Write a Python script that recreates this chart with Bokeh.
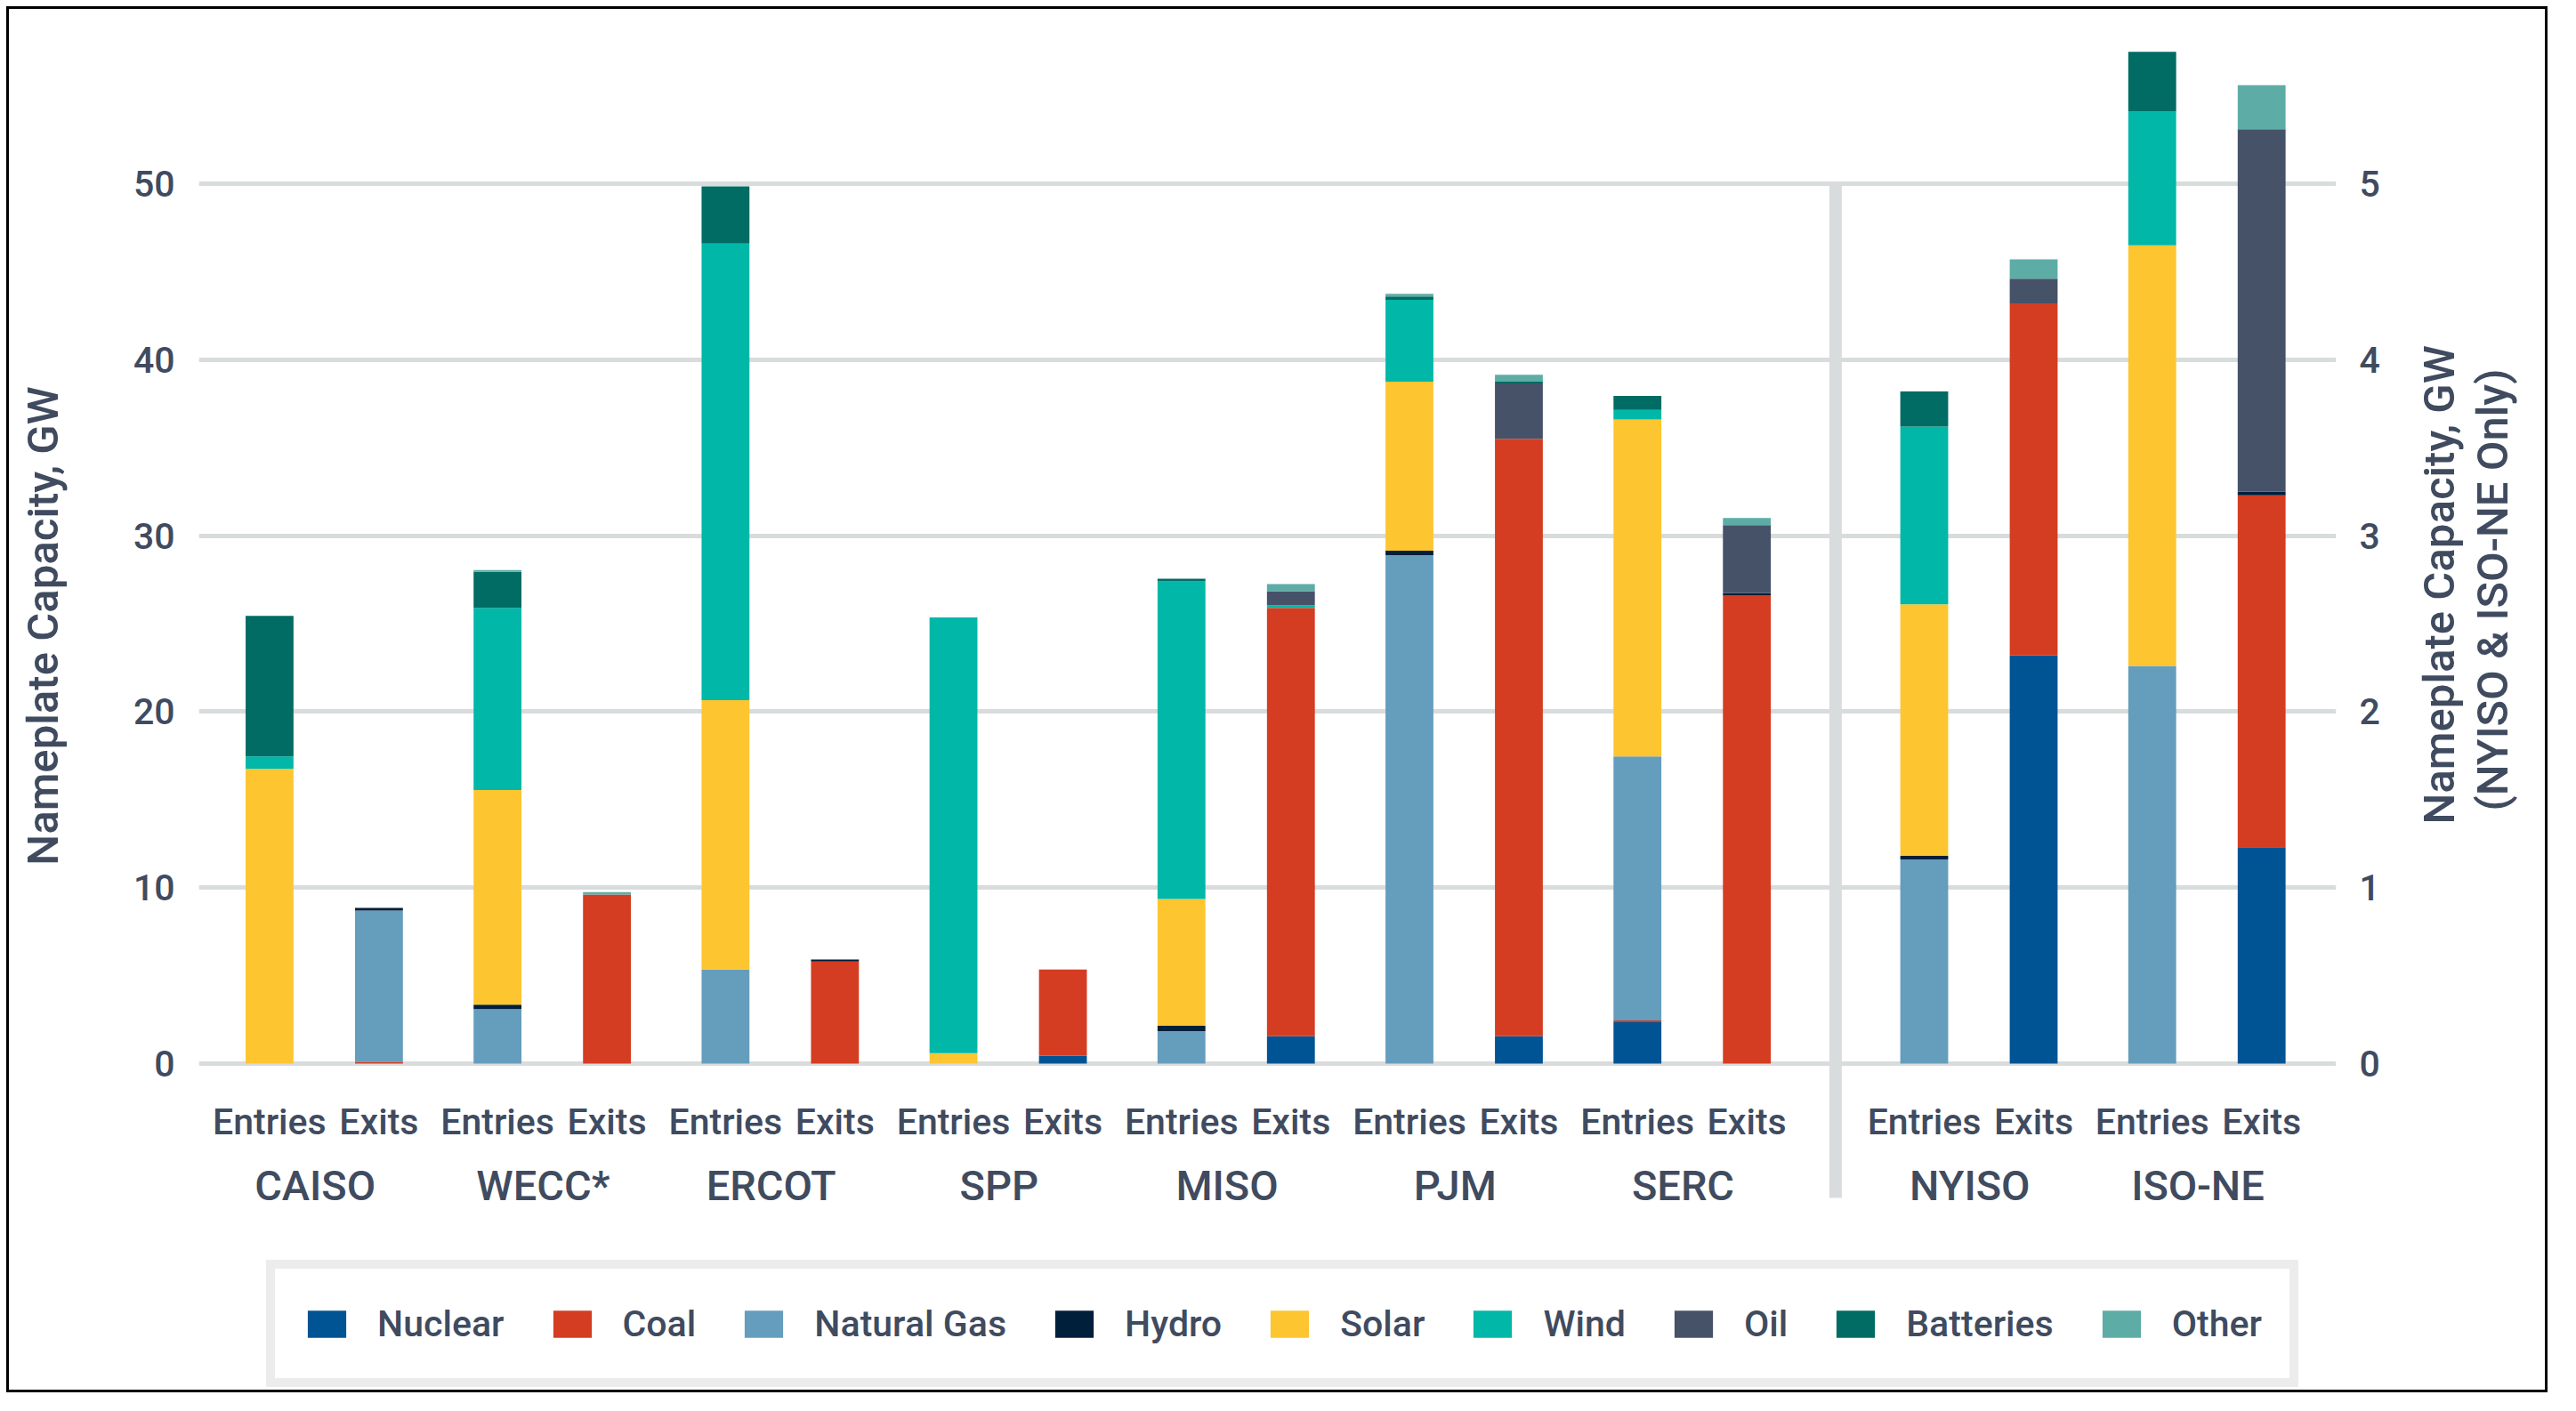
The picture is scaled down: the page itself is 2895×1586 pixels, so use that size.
import math
from bokeh.plotting import figure
from bokeh.layouts import column, row
from bokeh.models import (ColumnDataSource, Range1d, LinearAxis, FixedTicker,
                          Legend, LegendItem, Spacer)
from bokeh.core.properties import value
from bokeh.embed import file_html
from bokeh.resources import INLINE

# ---------------- data ----------------
regions = ["CAISO", "WECC*", "ERCOT", "SPP", "MISO", "PJM", "SERC", "NYISO", "ISO-NE"]
kinds = ["Entries", "Exits"]
right_axis_regions = ["NYISO", "ISO-NE"]   # plotted against the right axis (GW)
fuels = ["Nuclear", "Coal", "Natural Gas", "Hydro", "Solar", "Wind", "Oil", "Batteries", "Other"]
colors = ["#005493", "#D43D21", "#659DBD", "#001F3B", "#FDC530",
          "#00B7A8", "#465268", "#006C63", "#5DADA6"]

# bar order: CAISO En, CAISO Ex, WECC En, WECC Ex, ... ISO-NE En, ISO-NE Ex
nuclear   = [0, 0,    0, 0,     0, 0,     0, 0.45,  0, 1.55,   0, 1.55,   2.35, 0,    0, 2.32,  0, 1.23]
coal      = [0, 0.1,  0, 9.6,   0, 5.8,   0, 4.9,   0, 24.35,  0, 33.95,  0.1, 26.6,  0, 2.0,   0, 2.0]
nat_gas   = [0, 8.6,  3.1, 0,   5.35, 0,  0, 0,     1.85, 0,   28.9, 0,   15.0, 0,    1.16, 0,  2.26, 0]
hydro     = [0, 0.15, 0.25, 0,  0, 0.12,  0, 0,     0.3, 0,    0.25, 0,   0, 0.15,    0.02, 0,  0, 0.02]
solar     = [16.75, 0, 12.2, 0, 15.3, 0,  0.6, 0,   7.2, 0,    9.6, 0,    19.15, 0,   1.43, 0,  2.39, 0]
wind      = [0.7, 0,  10.35, 0, 25.95, 0, 24.75, 0, 18.05, 0.15, 4.65, 0, 0.55, 0,    1.01, 0,  0.76, 0]
oil       = [0, 0,    0, 0,     0, 0,     0, 0,     0, 0.8,    0, 3.15,   0, 3.85,    0, 0.14,  0, 2.06]
batteries = [8.0, 0,  2.05, 0,  3.25, 0,  0, 0,     0.15, 0,   0.2, 0.1,  0.8, 0,     0.2, 0,   0.34, 0]
other     = [0, 0,    0.1, 0.15, 0, 0,    0, 0,     0, 0.4,    0.15, 0.4, 0, 0.4,     0, 0.11,  0, 0.25]
series = [nuclear, coal, nat_gas, hydro, solar, wind, oil, batteries, other]

left_ticks = [0, 10, 20, 30, 40, 50]
right_ticks = [0, 1, 2, 3, 4, 5]
left_title = "Nameplate Capacity, GW"
right_title = ["Nameplate Capacity, GW", "(NYISO & ISO-NE Only)"]

# ---------------- layout helpers ----------------
FONT = "Roboto Medium"
TXT = "#404B5F"
GRID = "#D9DCDD"
PAIR_OFF = 0.48      # offset of the Exits bar inside a region group
EXTRA_GAP = 0.258    # additional gap before the right-axis regions
BAR_W = 0.21
W = 2856
MB_L, MB_R = 213, 241

n_left = len(regions) - len(right_axis_regions)

def gap(i):
    return EXTRA_GAP if i >= n_left else 0.0

bar_x, bar_region, bar_kind = [], [], []
for i, r in enumerate(regions):
    for k, kd in enumerate(kinds):
        bar_x.append(i + k * PAIR_OFF + gap(i))
        bar_region.append(r)
        bar_kind.append(kd)

def make_source(idx):
    d = {"x": [bar_x[j] for j in idx]}
    for f, s in zip(fuels, series):
        d[f] = [s[j] for j in idx]
    return ColumnDataSource(d)

left_idx = [j for j, r in enumerate(bar_region) if r not in right_axis_regions]
right_idx = [j for j, r in enumerate(bar_region) if r in right_axis_regions]
src_left = make_source(left_idx)
src_right = make_source(right_idx)

# ---------------- main chart ----------------
p = figure(width=W, height=1386, output_backend="svg", toolbar_location=None,
           x_range=Range1d(-0.31, 9.065), y_range=Range1d(-9.91, 59.66),
           x_axis_location=None, min_border_left=MB_L, min_border_right=MB_R,
           min_border_top=5, min_border_bottom=5,
           styles={"border": "3px solid black", "border-bottom": "none"})
p.background_fill_color = "white"
p.border_fill_color = "white"
p.outline_line_color = None
p.extra_y_ranges = {"right": Range1d(-0.991, 5.966)}

# grid
p.xgrid.visible = False
p.ygrid.ticker = FixedTicker(ticks=left_ticks)
p.ygrid.grid_line_color = GRID
p.ygrid.grid_line_width = 5

# separator between the two scales
sep_x = (bar_x[2 * n_left - 1] + bar_x[2 * n_left]) / 2
p.segment(x0=[sep_x], y0=[-7.63], x1=[sep_x], y1=[left_ticks[-1]],
          line_color=GRID, line_width=14, line_cap="butt")

# bars
p.vbar_stack(fuels, x="x", width=BAR_W, source=src_left,
             fill_color=colors, line_color=None)
p.vbar_stack(fuels, x="x", width=BAR_W, source=src_right,
             fill_color=colors, line_color=None, y_range_name="right")

# category labels
lab_src = ColumnDataSource(dict(x=bar_x, y=[-3.33] * len(bar_x), t=bar_kind))
p.text(x="x", y="y", text="t", source=lab_src, text_font=value(FONT),
       text_font_size="41px", text_color=TXT, text_align="center",
       text_baseline="middle")
reg_x = [i + 0.2 + gap(i) for i in range(len(regions))]
reg_src = ColumnDataSource(dict(x=reg_x, y=[-6.92] * len(regions), t=regions))
p.text(x="x", y="y", text="t", source=reg_src, text_font=value(FONT),
       text_font_size="47px", text_color=TXT, text_align="center",
       text_baseline="middle")

# axes
lax = p.yaxis[0]
lax.ticker = FixedTicker(ticks=left_ticks)
lax.axis_label = left_title

rax = LinearAxis(y_range_name="right", ticker=FixedTicker(ticks=right_ticks))
p.add_layout(rax, "right")

# right-hand title lines: one rotated label per line, anchored at its lower end
t_pos = [1.36, 1.436]
rax_t = []
for pos, txt, so in zip(t_pos, right_title, [64, 0]):
    a = LinearAxis(y_range_name="right", ticker=FixedTicker(ticks=[pos]),
                   major_label_overrides={pos: txt},
                   major_label_orientation=math.pi / 2)
    a.major_label_standoff = so
    p.add_layout(a, "right")
    rax_t.append(a)

for ax in [lax, rax] + rax_t:
    ax.axis_line_color = None
    ax.major_tick_line_color = None
    ax.minor_tick_line_color = None
    ax.major_tick_out = 0
    ax.major_tick_in = 0
    ax.minor_tick_out = 0
    ax.minor_tick_in = 0
    ax.major_label_text_font = FONT
    ax.major_label_text_font_size = "41px"
    ax.major_label_text_color = TXT
    ax.axis_label_text_font = FONT
    ax.axis_label_text_font_size = "49px"
    ax.axis_label_text_font_style = "normal"
    ax.axis_label_text_color = TXT
for a in rax_t:
    a.major_label_text_font_size = "49px"

lax.major_label_standoff = 27
lax.axis_label_standoff = 70
rax.major_label_standoff = 26

# ---------------- legend strip ----------------
q = figure(width=W, height=172, output_backend="svg", toolbar_location=None,
           x_range=p.x_range, y_range=Range1d(-2, -1),
           x_axis_location=None, y_axis_location=None,
           min_border_left=MB_L, min_border_right=MB_R, min_border_top=0, min_border_bottom=0,
           styles={"border": "3px solid black", "border-top": "none"})
q.background_fill_color = "white"
q.border_fill_color = "white"
q.outline_line_color = None
q.xgrid.visible = False
q.ygrid.visible = False
# the same stacks, hidden in this strip; they only feed the legend swatches
swatches = q.vbar_stack(fuels, x="x", width=BAR_W, source=src_left,
                        fill_color=colors, line_color=None)
for r in swatches:
    r.visible = False

legend = Legend(items=[LegendItem(label=f, renderers=[r]) for f, r in zip(fuels, swatches)],
                orientation="horizontal", location=(76, 6), margin=0,
                padding=31, spacing=49, label_standoff=30, label_height=61,
                glyph_width=54, glyph_height=38,
                label_text_font=FONT, label_text_font_size="41px",
                label_text_color=TXT,
                border_line_color="#D9DADB", border_line_width=10,
                background_fill_color="white", background_fill_alpha=1.0,
                inactive_fill_alpha=0.0)
q.add_layout(legend, "center")

page = column(Spacer(width=7, height=7),
              row(Spacer(width=7, height=7), column(p, q, spacing=0), spacing=0),
              spacing=0)
open("out.html", "w").write(file_html(page, INLINE))
